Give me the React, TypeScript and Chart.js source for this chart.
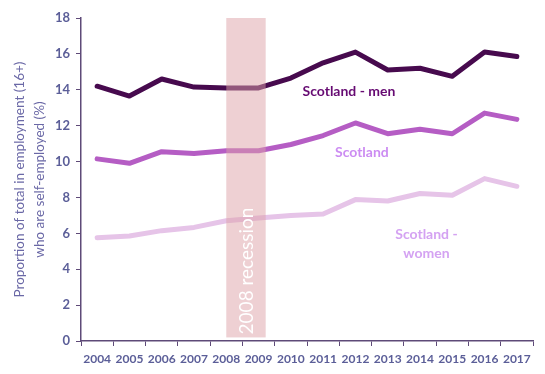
import React, { useEffect, useRef } from "react";
import { Chart, registerables } from "chart.js";

Chart.register(...registerables);

const years = ["2004", "2005", "2006", "2007", "2008", "2009", "2010", "2011", "2012", "2013", "2014", "2015", "2016", "2017"];
const men = [14.2, 13.65, 14.6, 14.15, 14.1, 14.1, 14.65, 15.5, 16.1, 15.1, 15.2, 14.75, 16.1, 15.85];
const scotland = [10.15, 9.9, 10.55, 10.45, 10.6, 10.6, 10.95, 11.45, 12.15, 11.55, 11.8, 11.55, 12.7, 12.35];
const women = [5.75, 5.85, 6.15, 6.33, 6.7, 6.85, 7.0, 7.08, 7.88, 7.8, 8.22, 8.12, 9.05, 8.62];

const yTitle = ["Proportion of total in employment (16+)", "who are self-employed (%)"];
const recessionLabel = "2008 recession";
const recessionStart = 4; // category index (2008 centre)
const recessionEnd = 5.22; // just past 2009 centre

// series labels: [text lines, x category position, y value]
const labels = [
  { lines: ["Scotland - men"], x: 7.8, y: 13.9, color: "#660a72" },
  { lines: ["Scotland"], x: 8.2, y: 10.5, color: "#cc8cf2" },
  { lines: ["Scotland -", "women"], x: 10.2, y: 5.95, color: "#d4a2f2" },
];

const FONT = "Lato, 'Open Sans', sans-serif";

export default function App() {
  const ref = useRef<HTMLCanvasElement>(null);
  useEffect(() => {
    document.body.style.margin = "0";
    const canvas = ref.current!;
    const overlay = {
      id: "overlay",
      afterDatasetsDraw(chart: any) {
        const { ctx, scales } = chart;
        const xs = scales.x;
        const ys = scales.y;
        const x0 = xs.getPixelForValue(recessionStart);
        const x1 = xs.getPixelForValue(recessionEnd);
        const top = ys.getPixelForValue(18);
        const bottom = ys.getPixelForValue(0.2);
        ctx.save();
        ctx.fillStyle = "rgba(222, 162, 168, 0.5)";
        ctx.fillRect(x0, top, x1 - x0, bottom - top);
        ctx.translate((x0 + x1) / 2 + 1, ys.getPixelForValue(3.9));
        ctx.rotate(-Math.PI / 2);
        ctx.fillStyle = "#ffffff";
        ctx.font = `19px ${FONT}`;
        ctx.textAlign = "center";
        ctx.textBaseline = "middle";
        ctx.fillText(recessionLabel, 0, 0);
        ctx.restore();

        ctx.save();
        ctx.font = `bold 14px ${FONT}`;
        ctx.textAlign = "center";
        ctx.textBaseline = "middle";
        for (const l of labels) {
          const px = xs.getPixelForValue(l.x);
          const py = ys.getPixelForValue(l.y);
          ctx.fillStyle = l.color;
          l.lines.forEach((t, i) => ctx.fillText(t, px, py + i * 19));
        }
        ctx.restore();
      },
    };
    const mk = (data: number[], color: string) => ({
      data,
      borderColor: color,
      backgroundColor: color,
      borderWidth: 5,
      pointRadius: 0,
      tension: 0,
      borderCapStyle: "round" as const,
      borderJoinStyle: "round" as const,
    });
    const chart = new Chart(canvas, {
      type: "line",
      data: {
        labels: years,
        datasets: [mk(women, "#e6c4e8"), mk(scotland, "#b55dc4"), mk(men, "#470a4e")],
      },
      options: {
        animation: false,
        responsive: false,
        layout: { padding: { left: 10, top: 18, right: 12, bottom: 0 } },
        plugins: { legend: { display: false }, tooltip: { enabled: false } },
        scales: {
          x: {
            offset: true,
            grid: { offset: true, drawOnChartArea: false, tickLength: 5, color: "#5e4a78", tickColor: "#5e4a78" },
            border: { color: "#5e4a78", width: 1.5 },
            ticks: { color: "#5b5e98", font: { family: FONT, size: 12, weight: "bold" }, padding: 6, maxRotation: 0, autoSkip: false },
            afterFit: (s: any) => { s.height = 33; },
          },
          y: {
            min: 0,
            max: 18,
            ticks: { stepSize: 2, color: "#5b5e98", font: { family: FONT, size: 13, weight: "bold" }, padding: 6 },
            grid: { drawOnChartArea: false, tickLength: 5, color: "#5e4a78", tickColor: "#5e4a78" },
            border: { color: "#5e4a78", width: 1.5 },
            title: {
              display: true,
              text: yTitle,
              color: "#6a68a6",
              font: { family: FONT, size: 13.5, lineHeight: 1.45 },
              padding: { top: 0, bottom: 6 },
            },
            afterFit: (s: any) => { s.width = 71; },
          },
        },
      },
      plugins: [overlay],
    });
    return () => chart.destroy();
  }, []);
  return (
    <div style={{ width: 545, height: 374 }}>
      <canvas ref={ref} width={545} height={374} />
    </div>
  );
}
